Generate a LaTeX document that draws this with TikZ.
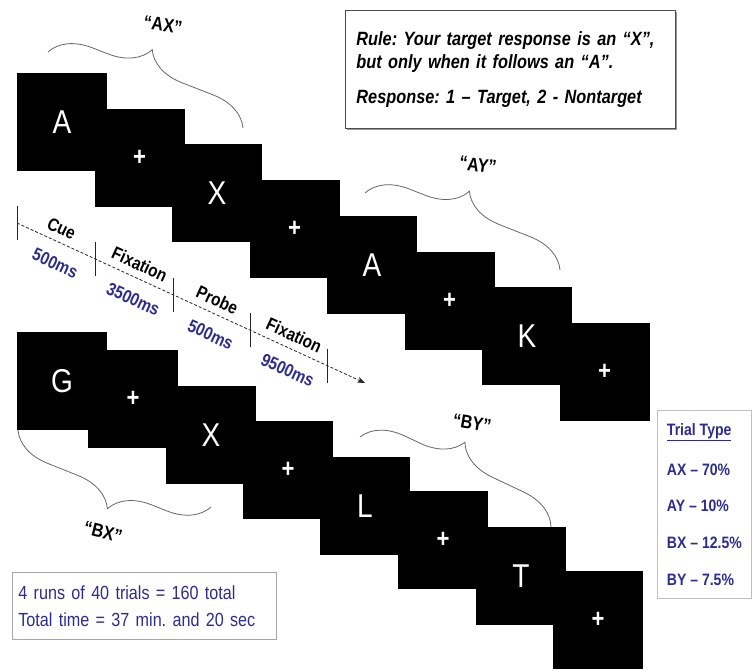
\documentclass[tikz,border=0pt]{standalone}
\usepackage{fontspec}
\setmainfont{Liberation Sans}[FakeStretch=0.85]
\usepackage{tikz}
\usepackage{xcolor}
\usetikzlibrary{decorations.pathreplacing,arrows.meta,shadows}
\definecolor{inkblue}{RGB}{45,45,145}
\frenchspacing

\begin{document}
\begin{tikzpicture}[x=1pt, y=-1pt,
  stim/.style={fill=black, minimum width=90pt, minimum height=98pt, inner sep=0pt, text=white, font=\fontsize{33}{33}\selectfont},
  cross/.style={stim, font=\bfseries\fontsize{26}{26}\selectfont},
  brc/.style={decorate, decoration={brace, amplitude=40pt, aspect=0.46}, draw=gray!80!black, line width=0.8pt},
  qlbl/.style={font=\bfseries\fontsize{19}{19}\selectfont},
  phase/.style={font=\bfseries\fontsize{18}{18}\selectfont, sloped, inner sep=2pt},
  dur/.style={phase, text=inkblue},
  tick/.style={draw=gray!30!black, line width=0.8pt}]
\useasboundingbox (0,0) rectangle (752,670);

\node (a1) at (62,122) [stim] {A};
\node (a2) at (139.5,157.7) [cross] {+};
\node (a3) at (217,193.4) [stim] {X};
\node (a4) at (294.5,229.1) [cross] {+};
\node (a5) at (372,264.8) [stim] {A};
\node (a6) at (449.5,300.5) [cross] {+};
\node (a7) at (527,336.2) [stim] {K};
\node (a8) at (604.5,371.9) [cross] {+};

\node (b1) at (62,381) [stim] {G};
\node (b2) at (133,399) [cross] {+};
\node (b3) at (211,435) [stim] {X};
\node (b4) at (288,470) [cross] {+};
\node (b5) at (365,506) [stim] {L};
\node (b6) at (443,540) [cross] {+};
\node (b7) at (521,576) [stim] {T};
\node (b8) at (598,620) [cross] {+};

\coordinate (t0) at (17,223);
\coordinate (t1) at (95,258.9);
\coordinate (t2) at (173,294.8);
\coordinate (t3) at (250,330.2);
\coordinate (t4) at (327,365.6);
\coordinate (tend) at (365,383);
\draw[gray!30!black, line width=0.8pt, dash pattern=on 3pt off 2pt, -{Stealth[length=8pt, width=6pt]}] (t0) -- (tend);
\foreach \t in {t0,t1,t2,t3,t4}
  \draw[tick] ([yshift=17pt]\t) -- ([yshift=-17pt]\t);
\path (t0) -- (t1) node[phase, midway, above=5pt] (cue) {Cue} node[dur, pos=0.6, below=12pt] (cuet) {500ms};
\path (t1) -- (t2) node[phase, midway, above=5pt] (fix1) {Fixation} node[dur, pos=0.6, below=12pt] (fix1t) {3500ms};
\path (t2) -- (t3) node[phase, midway, above=5pt] (probe) {Probe} node[dur, pos=0.6, below=12pt] (probet) {500ms};
\path (t3) -- (t4) node[phase, midway, above=5pt] (fix2) {Fixation} node[dur, pos=0.6, below=12pt] (fix2t) {9500ms};

\coordinate (axs) at (48,52);
\coordinate (axe) at (243,128);
\draw[brc] (axs) -- (axe);
\node (ax) at (163,25) [qlbl, rotate=-8] {“AX”};
\coordinate (ays) at (365,193);
\coordinate (aye) at (560,270);
\draw[brc] (ays) -- (aye);
\node (ay) at (478,165) [qlbl, rotate=-8] {“AY”};
\coordinate (bys) at (360,437);
\coordinate (bye) at (551,527);
\draw[brc] (bys) -- (bye);
\node (by) at (472,423) [qlbl, rotate=-10] {“BY”};
\coordinate (bxs) at (211,507);
\coordinate (bxe) at (18,430);
\draw[brc] (bxs) -- (bxe);
\node (bx) at (103,532) [qlbl, rotate=-14] {“BX”};

\node (rule) at (345,10) [anchor=north west, draw=gray!60!black, fill=white, line width=0.8pt,
  drop shadow={shadow xshift=1.2pt, shadow yshift=-1.2pt, fill=gray, opacity=0.8},
  text width=308pt, inner xsep=11pt, minimum height=118pt, align=left,
  font=\bfseries\itshape\fontsize{19.2}{23}\selectfont]
  {Rule: Your target response is an “X”,\\ but only when it follows an “A”.\\[12pt] Response: 1 – Target, 2 - Nontarget};

\node (trial) at (657,410) [anchor=north west, draw=gray!50, fill=white, line width=0.8pt,
  minimum width=94pt, inner xsep=0pt, minimum height=188pt, align=left, text=inkblue,
  font=\bfseries\fontsize{16.5}{36.7}\selectfont]
  {\underline{Trial Type}\\[3pt] AX – 70\%\\ AY – 10\%\\ BX – 12.5\%\\ BY – 7.5\%};

\node (runs) at (12,572) [anchor=north west, draw=gray!70, fill=white, line width=0.8pt,
  text width=252pt, inner xsep=6pt, minimum height=67pt, align=left, text=inkblue,
  font=\fontsize{19}{27}\selectfont]
  {4 runs of 40 trials = 160 total\\ Total time = 37 min.\ and 20 sec};
\end{tikzpicture}
\end{document}
